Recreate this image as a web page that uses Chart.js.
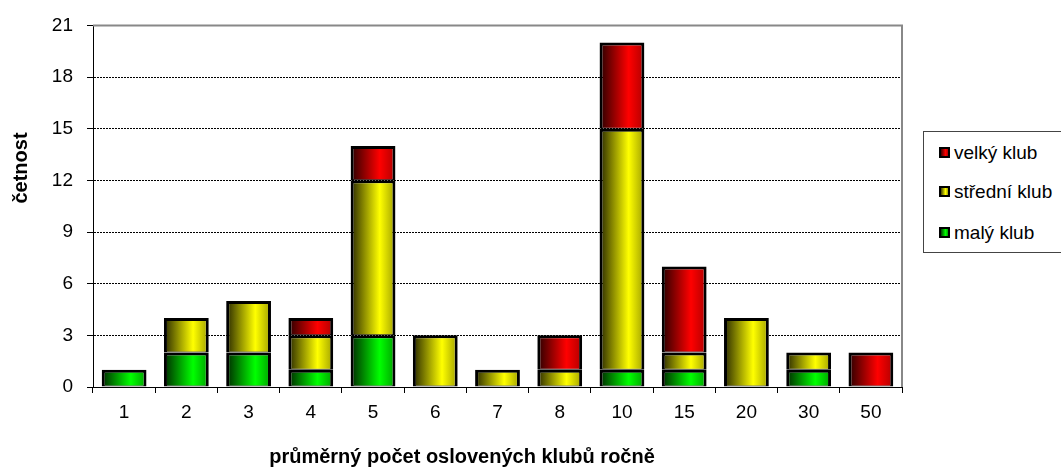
<!DOCTYPE html>
<html>
<head>
<meta charset="utf-8">
<script src="https://cdn.jsdelivr.net/npm/chart.js@4/dist/chart.umd.min.js"></script>
<style>
  html, body { margin: 0; padding: 0; background: #fff; }
  #wrap { position: relative; width: 1061px; height: 468px; }
  #legend {
    position: absolute; left: 923px; top: 131px; width: 150px; height: 122px;
    border: 1px solid #444; box-sizing: border-box; background: #fff;
    font-family: "Liberation Sans", Arial, sans-serif; font-size: 19px; color: #000;
  }
  #legend div { position: absolute; left: 15px; height: 22px; line-height: 22px; white-space: nowrap; }
  #legend span {
    display: inline-block; width: 7px; height: 7px; border: 2px solid #000;
    margin-right: 4px; vertical-align: 1px;
  }
</style>
</head>
<body>
<div id="wrap">
  <canvas id="myChart" width="1061" height="468"></canvas>
  <div id="legend">
    <div style="top:10px"><span style="background:linear-gradient(90deg,#400000,#ff0000 65%,#b00000)"></span>velký klub</div>
    <div style="top:49px"><span style="background:linear-gradient(90deg,#404000,#ffff00 65%,#a0a000)"></span>střední klub</div>
    <div style="top:90px"><span style="background:linear-gradient(90deg,#004000,#00ff00 65%,#00a000)"></span>malý klub</div>
  </div>
</div>
<script>
  var categories = ['1', '2', '3', '4', '5', '6', '7', '8', '10', '15', '20', '30', '50'];
  var maly    = [1, 2, 2, 1, 3, 0, 0, 0, 1, 1, 0, 1, 0];
  var stredni = [0, 2, 3, 2, 9, 3, 1, 1, 14, 1, 4, 1, 0];
  var velky   = [0, 0, 0, 1, 2, 0, 0, 2, 5, 5, 0, 0, 2];

  var BAR_PCT = 0.72;

  // horizontal shading across every bar: dark left, bright at ~65 %, darker right
  function shade(dark, bright, right) {
    return function (context) {
      var chart = context.chart;
      var x = chart.scales.x;
      if (!chart.chartArea || !x) return bright;
      var g = chart.ctx.createLinearGradient(x.left, 0, x.right, 0);
      var w = x.width;
      var bw = (w / categories.length) * BAR_PCT;
      for (var i = 0; i < categories.length; i++) {
        var c = x.getPixelForValue(i);
        var l = (c - bw / 2 - x.left) / w;
        var r = (c + bw / 2 - x.left) / w;
        g.addColorStop(Math.max(0, l), dark);
        g.addColorStop(l + (r - l) * 0.65, bright);
        g.addColorStop(Math.min(1, r), right);
      }
      return g;
    };
  }

  function ds(label, values, colors) {
    return {
      label: label,
      data: values.map(function (v) { return v === 0 ? null : v; }),
      backgroundColor: shade(colors[0], colors[1], colors[2]),
      borderColor: '#000',
      borderWidth: { left: 3, right: 3, top: 3, bottom: 1 },
      borderSkipped: false,
      barPercentage: BAR_PCT,
      categoryPercentage: 1
    };
  }

  // grey frame on top/right + the two axis titles (placed like the original)
  var framePlugin = {
    id: 'frame',
    beforeDatasetsDraw: function (chart) {
      var a = chart.chartArea, ctx = chart.ctx;
      ctx.save();
      ctx.strokeStyle = '#888';
      ctx.lineWidth = 2;
      ctx.beginPath();
      ctx.moveTo(a.left, a.top);
      ctx.lineTo(a.right, a.top);
      ctx.lineTo(a.right, a.bottom);
      ctx.stroke();
      ctx.restore();
    },
    afterDraw: function (chart) {
      var ctx = chart.ctx;
      ctx.save();
      ctx.fillStyle = '#000';
      ctx.font = 'bold 20px "Liberation Sans", Arial, sans-serif';
      ctx.textAlign = 'center';
      ctx.textBaseline = 'middle';
      ctx.fillText('průměrný počet oslovených klubů ročně', 462, 457);
      ctx.translate(21, 168);
      ctx.rotate(-Math.PI / 2);
      ctx.fillText('četnost', 0, 0);
      ctx.restore();
    }
  };

  Chart.defaults.font.family = '"Liberation Sans", Arial, sans-serif';
  Chart.defaults.color = '#000';

  new Chart(document.getElementById('myChart'), {
    type: 'bar',
    data: {
      labels: categories,
      datasets: [
        ds('malý klub', maly, ['#002800', '#00ff00', '#00a000']),
        ds('střední klub', stredni, ['#282800', '#ffff00', '#a0a000']),
        ds('velký klub', velky, ['#280000', '#ff0000', '#b00000'])
      ]
    },
    options: {
      responsive: false,
      animation: false,
      layout: { padding: { left: 0, right: 159, top: 18, bottom: 6 } },
      plugins: { legend: { display: false }, tooltip: { enabled: false } },
      scales: {
        x: {
          stacked: true,
          offset: true,
          grid: { offset: true, drawOnChartArea: false, tickLength: 6, color: '#000' },
          border: { color: '#000', width: 1 },
          ticks: { font: { size: 19 }, padding: 8 },
          afterFit: function (s) { s.height = 75; }
        },
        y: {
          stacked: true,
          min: 0, max: 21,
          ticks: { stepSize: 3, font: { size: 19 }, padding: 14 },
          grid: { color: '#000', lineWidth: 1, tickLength: 6, tickColor: '#000', tickBorderDash: [] },
          border: { color: '#000', width: 1, dash: [2, 1] },
          afterFit: function (s) { s.width = 93; }
        }
      }
    },
    plugins: [framePlugin]
  });
</script>
</body>
</html>
